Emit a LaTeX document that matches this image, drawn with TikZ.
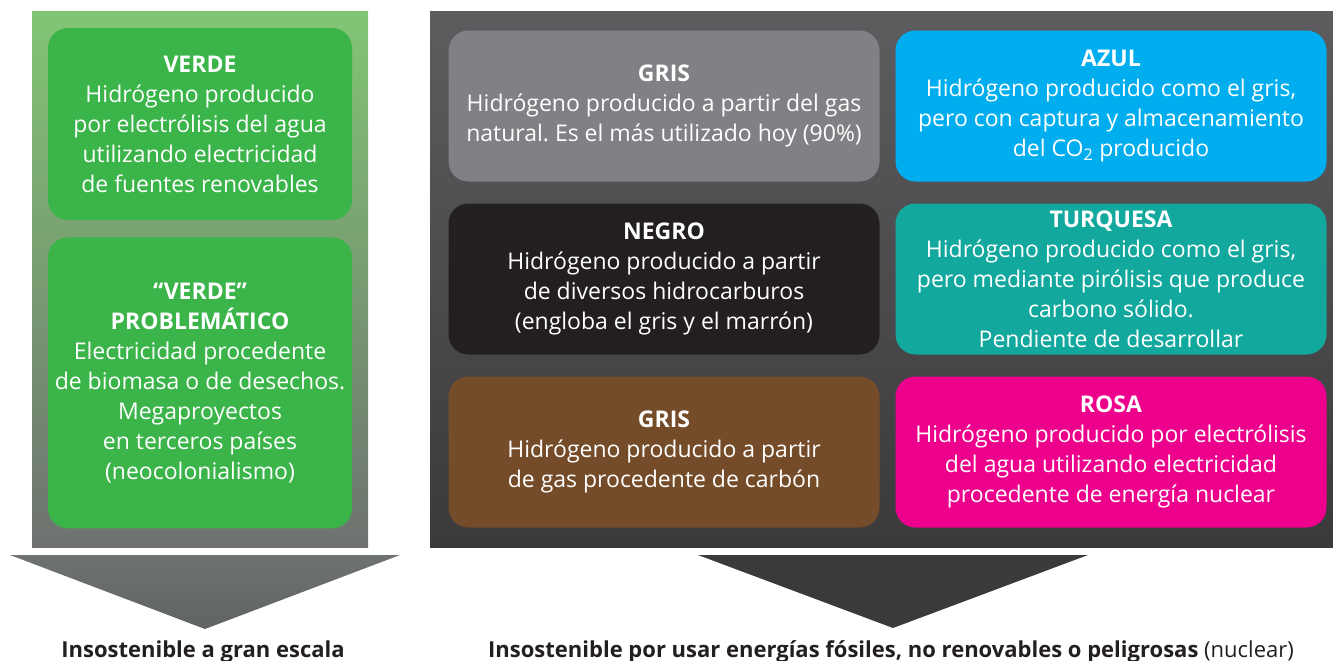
\documentclass[tikz,border=0pt]{standalone}
\usepackage{fontspec}
\setmainfont{Open Sans}
\usepackage{tikz}
\usetikzlibrary{matrix,positioning}

\definecolor{verde}{HTML}{3BB44A}
\definecolor{gris}{HTML}{808184}
\definecolor{azul}{HTML}{00AEEF}
\definecolor{negro}{HTML}{231F20}
\definecolor{turquesa}{HTML}{13A89E}
\definecolor{marron}{HTML}{754C29}
\definecolor{rosa}{HTML}{EC008C}
\definecolor{fondoverde}{HTML}{82C574}
\definecolor{fondogris}{HTML}{6E7270}
\definecolor{puntagris}{HTML}{606363}
\definecolor{fondoalto}{HTML}{5D5D60}
\definecolor{fondobajo}{HTML}{3A3A3B}
\definecolor{texto}{HTML}{231F20}

\begin{document}
\frenchspacing
\begin{tikzpicture}[x=1pt,y=-1pt,
    caja/.style={rectangle, rounded corners=20pt, text=white, align=center,
        inner sep=0pt, font=\fontsize{23}{30}\selectfont},
    lema/.style={anchor=base, text=texto, font=\fontsize{22}{26}\selectfont}]

    \useasboundingbox (0,0) rectangle (1333,661);

    % fondos y flechas
    \shade[top color=fondoverde, bottom color=fondogris] (32,12) rectangle (368,547);
    \shade[top color=fondoalto, bottom color=fondobajo] (430,12) rectangle (1333,547);
    \shade[top color=fondogris, bottom color=puntagris] (10,555) -- (400,555) -- (205,629) -- cycle;
    \fill[fondobajo] (698,555) -- (1088,555) -- (893,628) -- cycle;

    \node[caja, fill=verde, minimum width=304pt, minimum height=192pt] (verde) at (200,124)
        {\textbf{VERDE}\\Hidrógeno producido\\por electrólisis del agua\\utilizando electricidad\\de fuentes renovables};
    \node[caja, fill=verde, minimum width=304pt, minimum height=291pt, below=17pt of verde] (problema)
        {\textbf{“VERDE”}\\\textbf{PROBLEMÁTICO}\\Electricidad procedente\\de biomasa o de desechos.\\Megaproyectos\\en terceros países\\(neocolonialismo)};

    \matrix (m) [column sep=16pt, row sep=22pt,
        nodes={caja, minimum width=431pt, minimum height=151pt}] at (887.5,279) {
            \node[fill=gris] (gris) {\textbf{GRIS}\\Hidrógeno producido a partir del gas\\natural. Es el más utilizado hoy (90\%)}; &
            \node[fill=azul] (azul) {\textbf{AZUL}\\Hidrógeno producido como el gris,\\pero con captura y almacenamiento\\del CO\textsubscript{2} producido}; \\
            \node[fill=negro] (negro) {\textbf{NEGRO}\\Hidrógeno producido a partir\\de diversos hidrocarburos\\(engloba el gris y el marrón)}; &
            \node[fill=turquesa] (turquesa) {\textbf{TURQUESA}\\Hidrógeno producido como el gris,\\pero mediante pirólisis que produce\\carbono sólido.\\Pendiente de desarrollar}; \\
            \node[fill=marron] (marron) {\textbf{GRIS}\\Hidrógeno producido a partir\\de gas procedente de carbón}; &
            \node[fill=rosa] (rosa) {\textbf{ROSA}\\Hidrógeno producido por electrólisis\\del agua utilizando electricidad\\procedente de energía nuclear}; \\
    };

    \node[lema] (lema1) at (203,657) {\textbf{Insostenible a gran escala}};
    \node[lema] (lema2) at (891,657) {\textbf{Insostenible por usar energías fósiles, no renovables o peligrosas} (nuclear)};
\end{tikzpicture}
\end{document}
